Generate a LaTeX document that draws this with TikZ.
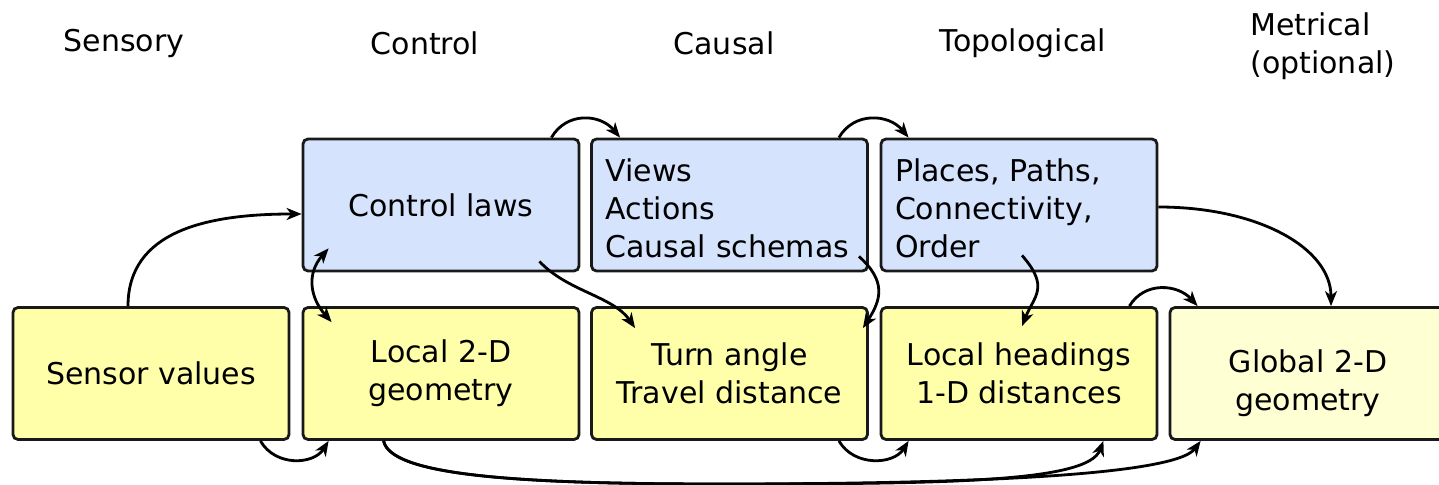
\documentclass[tikz,border=0pt]{standalone}
\usepackage{fontspec}
\setmainfont{DejaVu Sans}
\usetikzlibrary{arrows.meta,calc}

\definecolor{upperblue}{HTML}{D5E3FD}
\definecolor{loweryellow}{HTML}{FFFFAA}
\definecolor{paleyellow}{HTML}{FFFFD4}

\begin{document}
\begin{tikzpicture}[x=0.5pt,y=-0.5pt,
  box/.style={draw=black!90, line width=1.4pt, rounded corners=2.5pt,
    minimum width=138pt, minimum height=66pt, inner xsep=7pt, inner ysep=0pt,
    font=\fontsize{15}{19}\selectfont},
  upper/.style={box, fill=upperblue},
  lower/.style={box, fill=loweryellow},
  listbox/.style={text width=124pt, align=left},
  heading/.style={inner sep=0pt, font=\fontsize{15}{19}\selectfont},
  conn/.style={line width=1.4pt, -{Stealth[length=7.5pt,width=6pt,inset=2.2pt]}},
  twoway/.style={line width=1.4pt, {Stealth[length=7.5pt,width=6pt,inset=2.2pt]}-{Stealth[length=7.5pt,width=6pt,inset=2.2pt]}}
]
\useasboundingbox (0,0) rectangle (1439,485);

% column headings
\node[heading, anchor=base] (hsens) at (124,52) {Sensory};
\node[heading, anchor=base] (hctrl) at (425,55) {Control};
\node[heading, anchor=base] (hcaus) at (724,55) {Causal};
\node[heading, anchor=base] (htopo) at (1023,52) {Topological};
\node[heading, anchor=north west, align=left] (hmetr) at (1250,12) {Metrical\\(optional)};

% upper row
\node[upper, align=center] (ctrl) at (441,205) {Control laws};
\node[upper, listbox, text height=15pt] (views) at (729.5,205) {Views\\Actions\\Causal schemas};
\node[upper, listbox, text height=15pt] (places) at (1019,205) {Places, Paths,\\Connectivity,\\Order};

% lower row
\node[lower, align=center] (sensor) at (151,373.5) {Sensor values};
\node[lower, align=center] (local) at (441,373.5) {Local 2-D\\geometry};
\node[lower, align=center] (turn) at (729.5,373.5) {Turn angle\\Travel distance};
\node[lower, align=center] (head) at (1019,373.5) {Local headings\\1-D distances};
\node[box, fill=paleyellow, align=center, text height=40pt] (global) at (1308,373.5) {Global 2-D\\geometry};

% connectors
\draw[conn] ($(sensor.north)+(-23,0)$) .. controls +(0,-75) and +(-95,0) .. ($(ctrl.west)+(0,9)$);
\draw[twoway] ($(ctrl.south west)+(27,-24)$) .. controls +(-22,25) and +(-22,-25) .. ($(local.north west)+(30,16)$);
\draw[conn] ($(ctrl.south east)+(-41,-11)$) .. controls +(28,30) and +(-22,-32) .. ($(turn.north west)+(45,22)$);
\draw[conn] ($(ctrl.north east)+(-29,0)$) .. controls +(15,-26) and +(-20,-24) .. ($(views.north west)+(30,0)$);
\draw[conn] ($(views.north east)+(-30,0)$) .. controls +(15,-26) and +(-20,-24) .. ($(places.north west)+(29,0)$);
\draw[conn] ($(views.south east)+(-10,-16)$) .. controls +(28,25) and +(18,-28) .. ($(turn.north east)+(-6,22)$);
\draw[conn] ($(places.south)+(3,-17)$) .. controls +(28,32) and +(12,-30) .. ($(head.north)+(3,20)$);
\draw[conn] ($(places.east)+(0,2)$) .. controls +(100,0) and +(0,-58) .. ($(global.north)+(23,0)$);
\draw[conn] ($(head.north east)+(-29,0)$) .. controls +(15,-25) and +(-20,-22) .. ($(global.north west)+(29,0)$);
\draw[conn] ($(sensor.south east)+(-30,0)$) .. controls +(15,26) and +(-15,24) .. ($(local.south west)+(27,0)$);
\draw[conn] ($(turn.south east)+(-30,0)$) .. controls +(15,26) and +(-15,24) .. ($(head.south west)+(29,0)$);

% long return path from the local geometry to the two outer levels
\coordinate (split) at (720,484);
\draw[conn] ($(local.south west)+(82,0)$) .. controls +(7,35) and (520,484) .. (split)
  .. controls (950,484) and (1088,482) .. ($(head.south east)+(-55,0)$);
\draw[conn] ($(local.south west)+(82,0)$) .. controls +(7,35) and (520,484) .. (split)
  .. controls (960,484) and (1175,476) .. ($(global.south west)+(32,0)$);
\end{tikzpicture}
\end{document}
